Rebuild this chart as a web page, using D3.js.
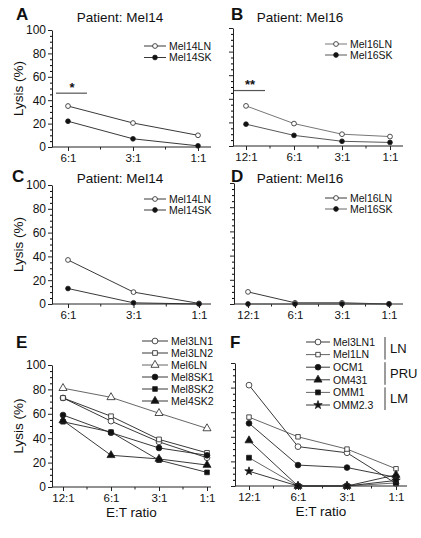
<!DOCTYPE html>
<html><head><meta charset="utf-8">
<script src="https://cdn.jsdelivr.net/npm/d3@7"></script>
<style>body{margin:0;background:#fff;} text{font-family:"Liberation Sans",Arial,sans-serif;fill:#111;}</style>
</head><body><svg id="c" width="421" height="538"></svg>
<script>
// ---------- data ----------
const ratios3 = ["6:1", "3:1", "1:1"];
const ratios4 = ["12:1", "6:1", "3:1", "1:1"];
const yTicks = [0, 20, 40, 60, 80, 100];

const aMel14LN = [35, 20.5, 10];
const aMel14LNerr = [2, 0, 0];
const aMel14SK = [22, 7, 1];
const bMel16LN = [34, 19, 10, 8];
const bMel16SK = [18.5, 9, 4, 3];
const cMel14LN = [37, 10, 0.5];
const cMel14SK = [13, 1, 0];
const dMel16LN = [10, 1, 1, 0];
const dMel16SK = [0, 0, 0, 0];
const eMel3LN1 = [73, 54, 37, 24];
const eMel3LN2 = [73, 58, 39, 28];
const eMel6LN = [81, 73.5, 60.5, 48];
const eMel8SK1 = [59, 44.5, 32, 26];
const eMel8SK2 = [53.5, 45, 22, 12];
const eMel4SK2 = [54.5, 26, 23, 18];
const fMel3LN1 = [82, 32, 27, 2];
const fMel1LN = [56, 40, 30, 14];
const fOCM1 = [51, 17, 15, 7];
const fOM431 = [37, 0, 0, 9];
const fOMM1 = [23, 0, 0, 2.5];
const fOMM23 = [12, 0, 0, 4.5];

const titleA = "Patient: Mel14", titleB = "Patient: Mel16";
const yTitle = "Lysis (%)", xTitle = "E:T ratio";

// ---------- drawing ----------
const svg = d3.select("#c");
const SYM = {
  circle: d3.symbolCircle, square: d3.symbolSquare,
  triangle: d3.symbolTriangle, star: d3.symbolStar
};

function panel(cfg) {
  const g = svg.append("g");
  const x = d3.scalePoint().domain(cfg.cats).range([cfg.cx0, cfg.cx1]);
  const y = d3.scaleLinear().domain([0, 100]).range([cfg.yb, cfg.yt]);

  // y axis
  const minor = d3.range(5, 100, 5).filter(v => v % 20 !== 0);
  g.append("g").attr("transform", `translate(${cfg.ax},0)`)
    .call(d3.axisLeft(y).tickValues(minor).tickSize(2).tickSizeOuter(0).tickFormat(""))
    .call(s => s.select(".domain").remove());
  const ya = g.append("g").attr("transform", `translate(${cfg.ax},0)`)
    .call(d3.axisLeft(y).tickValues(yTicks).tickSize(4).tickSizeOuter(0)
      .tickFormat(cfg.yLabels ? d3.format("d") : ""));
  ya.selectAll("text").attr("font-size", 12).attr("x", -6);
  ya.selectAll("path,line").attr("stroke", "#222");

  // x axis
  g.append("line").attr("x1", cfg.ax).attr("x2", cfg.axEnd)
    .attr("y1", cfg.yb).attr("y2", cfg.yb).attr("stroke", "#222");
  const xa = g.append("g").attr("transform", `translate(0,${cfg.yb})`)
    .call(d3.axisBottom(x).tickSize(4).tickSizeOuter(0));
  xa.select(".domain").remove();
  xa.selectAll("text").attr("font-size", 11.5).attr("y", 7);
  xa.selectAll("line").attr("stroke", "#222");
  const cats = cfg.cats;
  const mids = [];
  for (let i = 0; i < cats.length - 1; i++) mids.push((x(cats[i]) + x(cats[i + 1])) / 2);
  g.selectAll(".mx").data(mids).join("line")
    .attr("x1", d => d).attr("x2", d => d)
    .attr("y1", cfg.yb).attr("y2", cfg.yb + 2.5).attr("stroke", "#222");

  // titles
  if (cfg.title) g.append("text").attr("x", cfg.tx).attr("y", cfg.ty)
    .attr("text-anchor", "middle").attr("font-size", 13.5).text(cfg.title);
  g.append("text").attr("x", cfg.lx).attr("y", cfg.ly)
    .attr("font-size", 17).attr("font-weight", "bold").text(cfg.letter);
  if (cfg.yLabels) g.append("text")
    .attr("transform", `translate(${cfg.ax - 29},${(cfg.yb + cfg.yt) / 2}) rotate(-90)`)
    .attr("text-anchor", "middle").attr("font-size", 13.5).text(yTitle);
  if (cfg.xTitle) g.append("text").attr("x", (cfg.ax + cfg.axEnd) / 2).attr("y", cfg.yb + 30)
    .attr("text-anchor", "middle").attr("font-size", 13.5).text(xTitle);

  // series
  const line = d3.line().x((d, i) => x(cats[i])).y(d => y(d));
  cfg.series.forEach(s => {
    g.append("path").datum(s.values).attr("d", line)
      .attr("fill", "none").attr("stroke", s.color || "#222").attr("stroke-width", 0.9);
    if (s.err) {
      s.values.forEach((v, i) => {
        if (s.err[i] > 0) g.append("line").attr("x1", x(cats[i])).attr("x2", x(cats[i]))
          .attr("y1", y(v - s.err[i])).attr("y2", y(v + s.err[i])).attr("stroke", "#222");
      });
    }
    g.selectAll(null).data(s.values).join("path")
      .attr("transform", (d, i) => `translate(${x(cats[i])},${y(d)})`)
      .attr("d", d3.symbol(SYM[s.shape], s.size))
      .attr("fill", s.open ? "#fff" : "#111")
      .attr("stroke", "#222").attr("stroke-width", 0.8);
  });

  // legend
  cfg.series.forEach((s, i) => {
    const ly = cfg.legY + i * cfg.legDy;
    g.append("line").attr("x1", cfg.legX).attr("x2", cfg.legX + cfg.legW)
      .attr("y1", ly).attr("y2", ly).attr("stroke", s.color || "#222").attr("stroke-width", 0.9);
    g.append("path").attr("transform", `translate(${cfg.legX + cfg.legW / 2},${ly})`)
      .attr("d", d3.symbol(SYM[s.shape], s.size))
      .attr("fill", s.open ? "#fff" : "#111").attr("stroke", "#222").attr("stroke-width", 0.8);
    g.append("text").attr("x", cfg.legX + cfg.legW + 3).attr("y", ly + 3.8)
      .attr("font-size", cfg.legFont).text(s.name);
  });

  // significance
  if (cfg.sig) {
    const c0 = x(cats[0]);
    g.append("line").attr("x1", c0 - 12).attr("x2", c0 + 19)
      .attr("y1", y(cfg.sig.level)).attr("y2", y(cfg.sig.level)).attr("stroke", "#555").attr("stroke-width", 1.2);
    g.append("text").attr("x", c0 + 4).attr("y", y(cfg.sig.level) - 1.5)
      .attr("text-anchor", "middle").attr("font-size", 13).attr("font-weight", "bold").text(cfg.sig.mark);
  }
  return { x, y, g };
}

const small = 18, big = 26;

panel({ letter: "A", lx: 16, ly: 20, title: titleA, tx: 120, ty: 22,
  cats: ratios3, ax: 52, axEnd: 211, cx0: 68, cx1: 198, yb: 147, yt: 30, yLabels: true,
  legX: 144, legY: 46, legDy: 11.5, legW: 22, legFont: 10.5,
  sig: { level: 46, mark: "*" },
  series: [
    { name: "Mel14LN", values: aMel14LN, err: aMel14LNerr, shape: "circle", open: true, size: small },
    { name: "Mel14SK", values: aMel14SK, shape: "circle", open: false, size: small }
  ] });

panel({ letter: "B", lx: 231, ly: 20, title: titleB, tx: 300, ty: 22,
  cats: ratios4, ax: 233, axEnd: 403, cx0: 246, cx1: 390, yb: 146, yt: 28, yLabels: false,
  legX: 325, legY: 44, legDy: 11, legW: 22, legFont: 10.5,
  sig: { level: 47, mark: "**" },
  series: [
    { name: "Mel16LN", values: bMel16LN, shape: "circle", open: true, size: small, color: "#666" },
    { name: "Mel16SK", values: bMel16SK, shape: "circle", open: false, size: small, color: "#444" }
  ] });

panel({ letter: "C", lx: 12, ly: 182, title: titleA, tx: 120, ty: 183,
  cats: ratios3, ax: 52, axEnd: 211, cx0: 68, cx1: 199, yb: 304, yt: 185, yLabels: true,
  legX: 144, legY: 199, legDy: 11, legW: 22, legFont: 10.5,
  series: [
    { name: "Mel14LN", values: cMel14LN, shape: "circle", open: true, size: small },
    { name: "Mel14SK", values: cMel14SK, shape: "circle", open: false, size: small }
  ] });

panel({ letter: "D", lx: 231, ly: 182, title: titleB, tx: 300, ty: 183,
  cats: ratios4, ax: 234, axEnd: 403, cx0: 248, cx1: 389, yb: 304, yt: 183, yLabels: false,
  legX: 325, legY: 198, legDy: 11, legW: 22, legFont: 10.5,
  series: [
    { name: "Mel16LN", values: dMel16LN, shape: "circle", open: true, size: small },
    { name: "Mel16SK", values: dMel16SK, shape: "circle", open: false, size: small, color: "#555" }
  ] });

panel({ letter: "E", lx: 16, ly: 348, cats: ratios4, ax: 52, axEnd: 211, cx0: 63, cx1: 207,
  yb: 487, yt: 365, yLabels: true, xTitle: true,
  legX: 142, legY: 341, legDy: 12, legW: 26, legFont: 10.5,
  series: [
    { name: "Mel3LN1", values: eMel3LN1, shape: "circle", open: true, size: big },
    { name: "Mel3LN2", values: eMel3LN2, shape: "square", open: true, size: 22 },
    { name: "Mel6LN", values: eMel6LN, shape: "triangle", open: true, size: 28, color: "#555" },
    { name: "Mel8SK1", values: eMel8SK1, shape: "circle", open: false, size: big },
    { name: "Mel8SK2", values: eMel8SK2, shape: "square", open: false, size: 22 },
    { name: "Mel4SK2", values: eMel4SK2, shape: "triangle", open: false, size: 28 }
  ] });

const F = panel({ letter: "F", lx: 230, ly: 348, cats: ratios4, ax: 235, axEnd: 407, cx0: 249, cx1: 396,
  yb: 486, yt: 363, yLabels: false, xTitle: true,
  legX: 306, legY: 342, legDy: 12.6, legW: 24, legFont: 10.5,
  series: [
    { name: "Mel3LN1", values: fMel3LN1, shape: "circle", open: true, size: big },
    { name: "Mel1LN", values: fMel1LN, shape: "square", open: true, size: 20, color: "#555" },
    { name: "OCM1", values: fOCM1, shape: "circle", open: false, size: big },
    { name: "OM431", values: fOM431, shape: "triangle", open: false, size: 28 },
    { name: "OMM1", values: fOMM1, shape: "square", open: false, size: 24, color: "#555" },
    { name: "OMM2.3", values: fOMM23, shape: "star", open: false, size: 22 }
  ] });

// group brackets for F legend
const groups = [
  { name: "LN", from: 0, to: 1 },
  { name: "PRU", from: 2, to: 3 },
  { name: "LM", from: 4, to: 5 }
];
groups.forEach(gr => {
  const y0 = 342 + gr.from * 12.6 - 5, y1 = 342 + gr.to * 12.6 + 5;
  F.g.append("line").attr("x1", 385).attr("x2", 385).attr("y1", y0).attr("y2", y1)
    .attr("stroke", "#222").attr("stroke-width", 0.9);
  F.g.append("text").attr("x", 390).attr("y", (y0 + y1) / 2 + 4.5)
    .attr("font-size", 13).text(gr.name);
});
</script></body></html>
